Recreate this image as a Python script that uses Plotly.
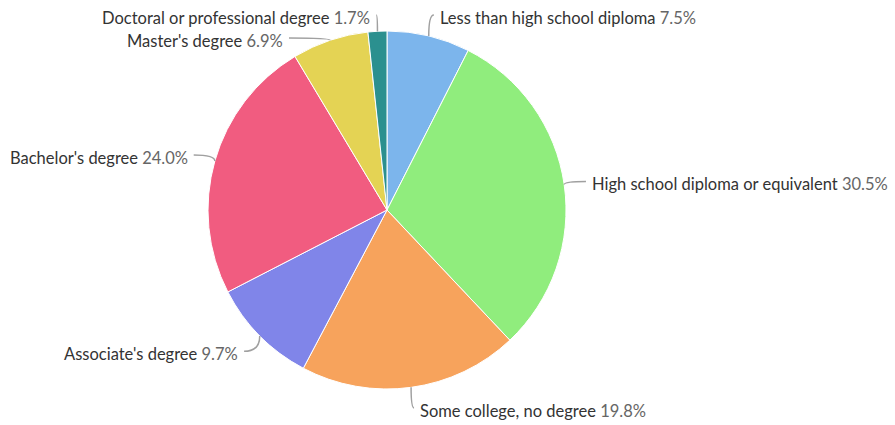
import math
import plotly.graph_objects as go

categories = ["Less than high school diploma", "High school diploma or equivalent",
              "Some college, no degree", "Associate's degree", "Bachelor's degree",
              "Master's degree", "Doctoral or professional degree"]
values = [7.5, 30.5, 19.8, 9.7, 24.0, 6.9, 1.7]
colors = ["#7cb5ec", "#90ed7d", "#f7a35c", "#8085e9", "#f15c80", "#e4d354", "#2b908f"]

W, H = 895, 425
CX, CY, R = 387, 210, 179
LAB_R = R + 22
FONT = "Lato"
FS = 16.5

fig = go.Figure(go.Pie(
    labels=categories, values=values, sort=False, direction="clockwise", rotation=0,
    marker=dict(colors=colors, line=dict(color="white", width=1)),
    textinfo="none", hoverinfo="label+percent", showlegend=False,
    domain=dict(x=[(CX - R) / W, (CX + R) / W], y=[1 - (CY + R) / H, 1 - (CY - R) / H]),
))

def px(x):
    return x / W

def py(y):
    return 1 - y / H

total = sum(values)
acc = 0
items = []
for name, v in zip(categories, values):
    mid = (acc + v / 2) / total * 2 * math.pi
    acc += v
    s, c = math.sin(mid), math.cos(mid)
    ex, ey = CX + R * s, CY - R * c
    lx, ly = CX + LAB_R * s, CY - LAB_R * c
    items.append(dict(name=name, v=v, s=s, ex=ex, ey=ey, lx=lx, ly=ly,
                      side=1 if s >= 0 else -1))

YMIN, YMAX, GAP = 15, 408, 23
for side in (1, -1):
    grp = sorted([it for it in items if it["side"] == side], key=lambda it: it["ly"])
    prev = None
    for it in grp:
        y0 = min(max(it["ly"], YMIN), YMAX)
        y = y0
        if prev is not None and y < prev + GAP:
            y = prev + GAP
        if abs(y - y0) > 0.5:
            dy = y - CY
            it["lx"] = CX + side * (math.sqrt(max(LAB_R ** 2 - dy ** 2, 0)) - 6)
        it["ly"] = y
        prev = y

shapes, annos = [], []
for it in items:
    lx, ly, ex, ey = it["lx"], it["ly"], it["ex"], it["ey"]
    path = f"M {px(lx)},{py(ly)} Q {px(ex)},{py(ly)} {px(ex)},{py(ey)}"
    shapes.append(dict(type="path", path=path, xref="paper", yref="paper",
                       line=dict(color="#a0a0a0", width=1.5)))
    text = f"{it['name']} <span style='color:#666666'>{it['v']:.1f}%</span>"
    annos.append(dict(
        x=px(lx + it["side"] * 4), y=py(ly + 3), xref="paper", yref="paper",
        text=text, showarrow=False, xanchor="left" if it["side"] > 0 else "right",
        yanchor="middle", font=dict(family=FONT, size=FS, color="#333333")))

fig.update_layout(width=W, height=H, margin=dict(l=0, r=0, t=0, b=0),
                  paper_bgcolor="white", plot_bgcolor="white",
                  shapes=shapes, annotations=annos)
fig.write_html("out.html", config={"displayModeBar": False},
               post_script="document.body.style.margin='0';")
